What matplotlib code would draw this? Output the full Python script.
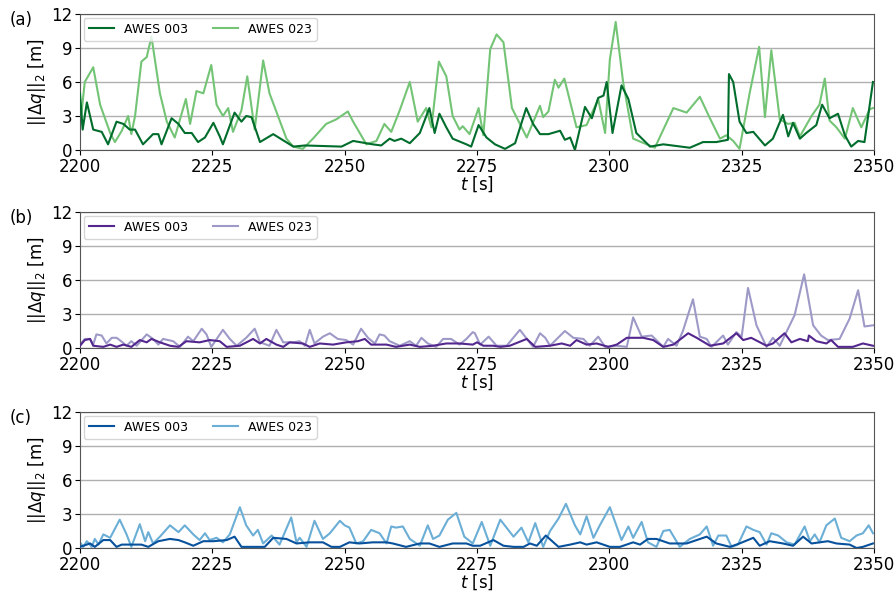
import matplotlib
matplotlib.use("Agg")
import matplotlib.pyplot as plt

# --- panel (a) ---
a003_t = [2200, 2200.5, 2201.3, 2202.5, 2204.1, 2205.3, 2206.9, 2208.2, 2209.4, 2210.4, 2211.9, 2213.8,
          2214.8, 2215.4, 2217.3, 2218.6, 2219.8, 2221.1, 2222.3, 2223.6, 2225.2, 2226.4, 2227, 2229.2,
          2230.5, 2231.4, 2232.4, 2234, 2236.5, 2240.3, 2242.5, 2249.4, 2251.6, 2255.3, 2256.9, 2258.5,
          2259.4, 2260.7, 2262.3, 2264.2, 2266, 2267, 2267.9, 2269.2, 2270.4, 2273, 2273.9, 2275.3,
          2276.8, 2278.4, 2280.3, 2282.2, 2284.3, 2285.6, 2286.9, 2288.5, 2290.7, 2291.6, 2292.6, 2293.5,
          2295.4, 2296.7, 2297.9, 2298.9, 2299.5, 2300.6, 2302.3, 2303.6, 2305.1, 2307.7, 2310.2, 2315.2,
          2317.7, 2320.2, 2322.4, 2322.6, 2323.4, 2324.6, 2325.9, 2327.2, 2329.4, 2330.9, 2332.8, 2333.8,
          2334.7, 2336, 2337.2, 2339.1, 2340.2, 2341.6, 2343.2, 2344.5, 2345.7, 2347, 2348.2, 2349.8]
a003_v = [5, 1.8, 4.2, 1.8, 1.6, 0.5, 2.5, 2.3, 1.8, 1.8, 0.5, 1.4,
          1.4, 0.5, 2.8, 2.3, 1.5, 1.5, 0.7, 1.1, 2.4, 1.2, 0.5, 3.3,
          2.5, 3, 2.9, 0.7, 1.4, 0.3, 0.4, 0.3, 0.8, 0.5, 0.4, 1,
          0.8, 1, 0.6, 1.5, 3.7, 1.5, 3.2, 2, 1, 0.5, 0.3, 2.2,
          1.1, 0.5, 0.1, 0.6, 3.7, 2.3, 1.4, 1.4, 1.7, 0.9, 1.1, 0,
          3.8, 2.8, 4.6, 4.8, 6, 1.5, 5.7, 4.5, 1.5, 0.3, 0.5, 0.2,
          0.7, 0.7, 0.9, 6.7, 6, 2.5, 1.5, 1.6, 0.4, 1, 3.1, 1.2,
          2.4, 1, 1.5, 2.2, 4, 2.8, 3.2, 1.3, 0.3, 0.8, 0.7, 6]
a023_t = [2200, 2200.9, 2202.5, 2203.8, 2205.7, 2206.6, 2207.9, 2209.1, 2209.7, 2210.4, 2211.6, 2212.6,
          2213.5, 2215.1, 2216.4, 2217.9, 2220, 2220.8, 2222, 2223.3, 2224.8, 2225.8, 2227, 2228,
          2228.9, 2230.5, 2231.6, 2233, 2234.6, 2235.8, 2239, 2240.3, 2242.1, 2244, 2246.5, 2248.4,
          2250.6, 2251.6, 2254.1, 2256, 2257.5, 2258.8, 2260.4, 2262.3, 2263.8, 2265.4, 2266.4, 2267.8,
          2269.2, 2270.4, 2271.7, 2272.3, 2273.6, 2275.3, 2276.2, 2277.5, 2278.7, 2280, 2281.6, 2284.4,
          2286.9, 2287.5, 2288.5, 2289.7, 2290.4, 2291.5, 2293.8, 2295.7, 2297.9, 2299.2, 2300.1, 2301.2,
          2302.6, 2304.5, 2308.6, 2312.1, 2314.6, 2317.1, 2319, 2320.9, 2322.1, 2323.4, 2324.6, 2326.5,
          2328.3, 2329.4, 2330.6, 2332.2, 2333.8, 2335, 2336, 2338.2, 2339.7, 2340.7, 2341.6, 2342.9,
          2344.5, 2346.0, 2347.6, 2349.2, 2349.8]
a023_v = [2, 6, 7.3, 4, 1.5, 0.7, 1.7, 3, 1.4, 3, 7.8, 8.2,
          10, 5, 2.5, 1.1, 4.5, 2.3, 5.2, 5, 7.5, 4, 3, 3.7,
          1.6, 3.5, 6.5, 1.8, 7.9, 5, 1, 0.3, 0.1, 1, 2.3, 2.7,
          3.4, 2.5, 0.5, 0.8, 2.3, 1.6, 3.5, 6, 2.5, 3.7, 2, 7.8,
          6.5, 3, 1.8, 2.1, 1.4, 3.7, 1.3, 8.9, 10.2, 9.5, 3.7, 1.1,
          3.9, 2.9, 3.4, 6.2, 5.5, 6.3, 2, 2.2, 4.5, 1.5, 8, 11.3,
          6, 1, 0.2, 3.7, 3.3, 4.7, 2.8, 1, 1.3, 0.8, 0.1, 5,
          9.1, 2.9, 8.8, 2.7, 2.3, 2.4, 1.2, 3, 4, 6.3, 2.6, 2,
          1, 3.7, 2, 3.6, 3.7]

# --- panel (b) ---
b003_t = [2200, 2200.9, 2201.9, 2202.5, 2204.4, 2205.7, 2206.9, 2208.2, 2209.7, 2211.3, 2212.6, 2213.5,
          2215.1, 2217, 2218.6, 2220.1, 2222.6, 2224.5, 2226.4, 2227.7, 2230.2, 2232.7, 2234, 2235.2,
          2237.1, 2238.4, 2239.6, 2242.1, 2243.4, 2245.3, 2247.8, 2250.3, 2252.5, 2253.8, 2255, 2257.9,
          2259.7, 2262.3, 2264.2, 2266.7, 2269.2, 2271.7, 2274.2, 2275, 2276.2, 2278.1, 2279.4, 2281.2,
          2284.4, 2286, 2288.8, 2291, 2292.6, 2293.8, 2295.7, 2297.6, 2299.8, 2301.4, 2303.3, 2306.4,
          2308.3, 2310.2, 2312.1, 2314.9, 2316.5, 2319, 2321.5, 2324, 2325.3, 2326.8, 2329.7, 2330.9,
          2333.1, 2334.4, 2336, 2337.5, 2337.7, 2339.1, 2341, 2341.9, 2343.2, 2346.0, 2347.9, 2349.8]
b003_v = [0.2, 0.7, 0.8, 0.2, 0.1, 0.3, 0.1, 0.3, 0.1, 0.7, 0.5, 0.8,
          0.5, 0.2, 0.1, 0.6, 0.5, 0.7, 0.6, 0.1, 0.2, 0.8, 0.4, 0.8,
          0.3, 0.1, 0.5, 0.4, 0.1, 0.4, 0.3, 0.5, 0.6, 0.8, 0.3, 0.3,
          0.1, 0.3, 0.1, 0.2, 0.4, 0.4, 0.3, 0.5, 0.2, 0.2, 0.1, 0.2,
          0.8, 0.1, 0.2, 0.4, 0.2, 0.7, 0.3, 0.4, 0.1, 0.3, 0.9, 0.9,
          0.7, 0.1, 0.3, 1.3, 0.9, 0.2, 0.4, 1.3, 0.7, 0.9, 0.2, 0.4,
          1.3, 0.5, 0.8, 0.6, 1.1, 0.6, 0.4, 0.7, 0.1, 0.1, 0.4, 0.2]
b023_t = [2200, 2200.9, 2201.9, 2202.5, 2203.1, 2204.1, 2205, 2206, 2206.9, 2207.5, 2208.8, 2209.7,
          2210.7, 2212.6, 2213.8, 2214.8, 2215.7, 2217.6, 2218.9, 2220.4, 2221.4, 2223, 2223.9, 2224.8,
          2227, 2228.3, 2229.6, 2231.4, 2233, 2234, 2235.8, 2237.1, 2238.4, 2240.3, 2241.5, 2242.5,
          2243.4, 2244.3, 2245.9, 2247.2, 2248.7, 2250.3, 2251.6, 2253.1, 2254.4, 2255.7, 2256.6, 2257.5,
          2258.5, 2260.4, 2262.3, 2263.5, 2264.5, 2265.7, 2267.3, 2268.6, 2270.1, 2271.7, 2273, 2274.2,
          2274.6, 2275.6, 2277.2, 2278.7, 2280.6, 2283.1, 2285.6, 2286.9, 2287.9, 2288.8, 2291.6, 2293.2,
          2295.1, 2296.3, 2297.9, 2299.2, 2301.4, 2303.3, 2304.5, 2306.1, 2308, 2310.2, 2311.1, 2312.7,
          2313.9, 2315.8, 2317.1, 2318.4, 2319.3, 2321.5, 2322.4, 2324, 2325, 2326.2, 2327.8, 2329.7,
          2330.9, 2332.2, 2335, 2336.8, 2338.5, 2340, 2341.3, 2343.5, 2345.4, 2347, 2348.2, 2349.8]
b023_v = [0.3, 0.8, 0.8, 0.3, 1.2, 1.1, 0.4, 0.9, 0.9, 0.7, 0.2, 0.6,
          0.2, 1.2, 0.8, 0.3, 0.8, 0.6, 0.1, 1.0, 0.6, 1.7, 1.2, 0.1,
          1.6, 0.8, 0.2, 0.9, 1.7, 0.5, 0.2, 1.6, 0.5, 0.5, 0.6, 0.2,
          1.6, 0.4, 1.0, 1.3, 0.8, 0.7, 0.3, 1.7, 0.9, 0.4, 1.2, 1.1,
          0.6, 0.2, 0.6, 0.2, 0.9, 0.4, 0.1, 0.8, 0.8, 0.3, 0.8, 1.4,
          1.3, 0.3, 1.0, 0.2, 0.2, 1.6, 0.1, 1.3, 0.9, 0.2, 1.5, 0.9,
          0.8, 0.2, 1.0, 0.1, 0.2, 0.1, 2.7, 1.0, 1.1, 0.1, 0.8, 0.2,
          1.5, 4.3, 1.0, 0.8, 0.1, 1.1, 0.3, 1.4, 1.0, 5.3, 2.0, 0.1,
          0.9, 0.2, 2.9, 6.5, 2.0, 1.1, 0.7, 0.8, 2.6, 5.1, 1.9, 2.0]

# --- panel (c) ---
c003_t = [2200.0, 2201.9, 2202.8, 2204.4, 2205.7, 2206.9, 2207.9, 2209.7, 2211.6, 2212.9, 2214.8, 2217.0,
          2218.6, 2219.8, 2221.4, 2223.3, 2225.2, 2227.7, 2229.2, 2230.5, 2232.7, 2234.9, 2236.5, 2239.0,
          2240.9, 2243.4, 2245.9, 2247.5, 2249.1, 2250.9, 2252.8, 2255.3, 2257.9, 2259.1, 2261.6, 2264.2,
          2266.0, 2267.9, 2270.4, 2273.0, 2274.2, 2275.6, 2278.1, 2280.0, 2281.9, 2283.8, 2285.0, 2286.3,
          2288.0, 2290.4, 2292.6, 2294.5, 2295.7, 2297.6, 2300.1, 2302.0, 2304.5, 2305.8, 2307.3, 2308.9,
          2311.4, 2314.6, 2318.4, 2320.2, 2322.8, 2324.6, 2327.2, 2328.4, 2330.3, 2332.8, 2334.7, 2336.6,
          2338.2, 2341.3, 2342.9, 2345.4, 2346.7, 2347.9, 2349.8]
c003_v = [0.1, 0.4, 0.1, 0.7, 0.7, 0.1, 0.3, 0.3, 0.3, 0.1, 0.6, 0.8,
          0.7, 0.5, 0.2, 0.6, 0.6, 0.7, 1.0, 0.1, 0.1, 0.1, 0.9, 0.8,
          0.4, 0.5, 0.5, 0.1, 0.1, 0.5, 0.4, 0.5, 0.5, 0.4, 0.1, 0.4,
          0.4, 0.1, 0.4, 0.4, 0.2, 0.2, 0.7, 0.2, 0.1, 0.1, 0.4, 0.2,
          1.1, 0.1, 0.3, 0.5, 0.3, 0.5, 0.1, 0.1, 0.5, 0.3, 0.8, 0.8,
          0.4, 0.4, 1.0, 0.4, 0.1, 0.4, 0.9, 0.2, 0.6, 0.4, 0.2, 1.0,
          0.4, 0.6, 0.4, 0.3, 0.0, 0.1, 0.4]
c023_t = [2200.0, 2200.6, 2201.3, 2202.2, 2202.8, 2203.5, 2204.4, 2205.7, 2207.5, 2208.8, 2209.7, 2211.3,
          2212.3, 2212.9, 2213.8, 2215.1, 2217.0, 2218.6, 2219.8, 2221.4, 2222.6, 2223.6, 2224.5, 2225.8,
          2227.0, 2228.3, 2230.2, 2231.4, 2232.7, 2233.6, 2234.6, 2236.2, 2237.7, 2239.9, 2240.9, 2241.5,
          2242.8, 2244.3, 2245.9, 2247.2, 2249.1, 2250.0, 2250.9, 2252.2, 2253.5, 2255.0, 2256.6, 2257.9,
          2258.8, 2259.7, 2261.0, 2262.3, 2264.2, 2265.7, 2266.7, 2267.9, 2269.5, 2271.1, 2272.6, 2274.2,
          2275.9, 2277.5, 2279.4, 2281.9, 2283.4, 2284.7, 2286.0, 2287.5, 2288.8, 2290.4, 2291.8, 2293.5,
          2294.5, 2295.7, 2297.0, 2298.2, 2300.1, 2302.3, 2303.6, 2304.5, 2306.1, 2307.3, 2308.9, 2310.2,
          2311.4, 2313.3, 2315.2, 2317.1, 2318.4, 2319.6, 2320.6, 2322.1, 2323.1, 2324.3, 2325.9, 2327.2,
          2328.4, 2329.7, 2330.6, 2331.9, 2333.5, 2335.0, 2336.9, 2337.9, 2338.8, 2339.7, 2341.0, 2342.6,
          2343.8, 2345.4, 2346.7, 2347.9, 2349.0, 2349.8]
c023_v = [0.5, 0.1, 0.6, 0.1, 0.8, 0.3, 1.2, 0.9, 2.5, 1.2, 0.1, 2.1,
          0.6, 1.4, 0.4, 1.0, 2.0, 1.4, 2.0, 1.2, 0.7, 1.3, 0.7, 0.9,
          0.5, 1.2, 3.6, 2.0, 1.1, 1.6, 0.4, 1.1, 0.3, 2.7, 0.5, 0.9,
          0.1, 2.4, 0.8, 1.3, 2.4, 2.0, 1.8, 0.4, 0.6, 1.6, 1.3, 0.4,
          1.9, 1.8, 1.9, 0.8, 0.2, 2.0, 0.8, 1.1, 2.5, 3.1, 1.0, 0.4,
          2.3, 0.2, 2.5, 1.0, 1.8, 0.5, 2.2, 0.1, 1.5, 2.6, 3.9, 2.0,
          1.2, 2.8, 0.9, 2.0, 3.6, 0.7, 1.9, 0.9, 2.3, 0.5, 0.1, 1.5,
          1.6, 0.1, 0.8, 1.2, 1.9, 0.2, 1.1, 1.1, 0.1, 0.3, 1.9, 1.6,
          1.4, 0.3, 1.3, 1.1, 0.5, 0.3, 1.9, 0.6, 1.2, 0.5, 2.0, 2.6,
          0.9, 0.6, 1.1, 1.3, 2.0, 1.3]

PANELS = [
    ("(a)", a003_t, a003_v, a023_t, a023_v, "#006d2c", "#74c476"),
    ("(b)", b003_t, b003_v, b023_t, b023_v, "#54278f", "#9e9ac8"),
    ("(c)", c003_t, c003_v, c023_t, c023_v, "#08519c", "#6baed6"),
]
Y_TICKS = [0, 3, 6, 9, 12]
X_TICKS = [2200, 2225, 2250, 2275, 2300, 2325, 2350]

fig = plt.figure(figsize=(8.96, 5.97), dpi=100)
tops = [14, 212, 412]
height = 136
for (tag, t1, v1, t2, v2, c1, c2), top in zip(PANELS, tops):
    ax = fig.add_axes([80 / 896, 1 - (top + height) / 597, 794 / 896, height / 597])
    ax.plot(t1, v1, color=c1, lw=1.5, label="AWES 003", zorder=3)
    ax.plot(t2, v2, color=c2, lw=1.5, label="AWES 023", zorder=2)
    ax.set_xlim(2200, 2350)
    ax.set_ylim(0, 12)
    ax.set_yticks(Y_TICKS)
    ax.set_xticks(X_TICKS)
    ax.tick_params(labelsize=12, pad=2)
    ax.yaxis.grid(True, color="#b0b0b0", lw=1)
    ax.set_axisbelow(True)
    for s in ax.spines.values():
        s.set_color("#555555")
    ax.set_xlabel(r"$t$ [s]", fontsize=12, labelpad=-1)
    ax.set_ylabel(r"$||\Delta q||_2$ [m]", fontsize=12, labelpad=2)
    ax.legend(loc="upper left", ncol=2, fontsize=9, handlelength=2.0,
              columnspacing=2.0, borderaxespad=0.3)
    fig.text(10 / 896, 1 - (top + 6) / 597, tag, fontsize=12, va="center")

fig.savefig("out.png", dpi=100)
